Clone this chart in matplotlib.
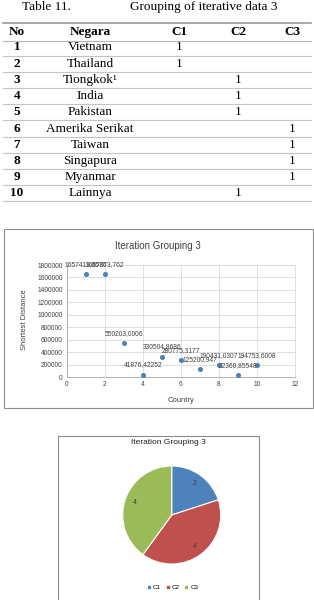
import matplotlib
matplotlib.use("Agg")
import matplotlib.pyplot as plt
from matplotlib.patches import Rectangle
from matplotlib.lines import Line2D

# table data
no = [1, 2, 3, 4, 5, 6, 7, 8, 9, 10]
negara = ["Vietnam", "Thailand", "Tiongkok\u00b9", "India", "Pakistan",
          "Amerika Serikat", "Taiwan", "Singapura", "Myanmar", "Lainnya"]
cluster = [1, 1, 2, 2, 2, 3, 3, 3, 3, 2]   # 1 -> C1, 2 -> C2, 3 -> C3

# scatter data
country = [1, 2, 3, 4, 5, 6, 7, 8, 9, 10]
distance = [1657419.8576, 1657873.762, 550203.0006, 41876.42252, 330504.8686,
            280775.3177, 125200.947, 190431.0307, 32360.85548, 194753.6008]
dist_labels = ["1657419,8576", "1657873,762", "550203,0006", "41876,42252",
               "330504,8686", "280775,3177", "125200,947", "190431,0307",
               "32360,85548", "194753,6008"]

# pie data
pie_labels = ["C1", "C2", "C3"]
pie_counts = [2, 4, 4]
pie_colors = ["#4f81bd", "#c0504d", "#9bbb59"]

W, H = 314, 600
fig = plt.figure(figsize=(W / 100, H / 100), dpi=100)

# overlay in pixel coordinates for the table and the chart boxes
ov = fig.add_axes([0, 0, 1, 1])
ov.set_xlim(0, W)
ov.set_ylim(H, 0)
ov.axis("off")

serif = "Liberation Serif"
sans = "Liberation Sans"

ov.text(22, 7, "Table 11.", family=serif, fontsize=9.5, va="center")
ov.text(130, 7, "Grouping of iterative data 3", family=serif, fontsize=9.5, va="center")

col_x = [17, 90, 179, 238, 292]
header = ["No", "Negara", "C1", "C2", "C3"]
for cx, h in zip(col_x, header):
    ov.text(cx, 32, h, family=serif, fontsize=9.5, weight="bold", ha="center", va="center")

ov.plot([3, 311], [22.5, 22.5], color="#9a9a9a", lw=1.2)
ov.plot([3, 311], [40.5, 40.5], color="#b5b5b5", lw=0.8)
row_h = 16.2
for i, (n, neg, c) in enumerate(zip(no, negara, cluster)):
    y = 47.5 + i * row_h
    ov.text(col_x[0], y, str(n), family=serif, fontsize=9.5, weight="bold", ha="center", va="center")
    ov.text(col_x[1], y, neg, family=serif, fontsize=9.5, ha="center", va="center")
    ov.text(col_x[1 + c], y, "1", family=serif, fontsize=9.5, ha="center", va="center")
    yl = y + row_h / 2
    ov.plot([3, 311], [yl, yl], color="#c4c4c4", lw=0.8)

# chart frames
ov.add_patch(Rectangle((4, 229), 309, 179, fill=False, ec="#8c8c8c", lw=0.8))
ov.add_patch(Rectangle((58.3, 435.7), 201, 170, fill=False, ec="#8c8c8c", lw=0.8))

ov.text(158, 246, "Iteration Grouping 3", family=sans, fontsize=7, ha="center", va="center", color="#404040")
ov.text(25, 320, "Shortest Distance", family=sans, fontsize=5.5, rotation=90,
        ha="center", va="center", color="#404040")
ov.text(181, 400, "Country", family=sans, fontsize=5.5, ha="center", va="center", color="#404040")
ov.text(168, 442.7, "Iteration Grouping 3", family=sans, fontsize=6, ha="center", va="center", color="#202020")

# scatter chart
ax = fig.add_axes([66.7 / W, 1 - 377.3 / H, (295 - 66.7) / W, (377.3 - 265) / H])
ax.scatter(country, distance, s=7, color="#4f81bd", zorder=3)
for xv, yv, lab in zip(country, distance, dist_labels):
    ax.annotate(lab, (xv, yv), xytext=(0, 7), textcoords="offset points",
                ha="center", va="center", fontsize=4.8, family=sans, color="#404040")
ax.set_xlim(0, 12)
ax.set_ylim(0, 1800000)
ax.set_xticks(range(0, 13, 2))
ax.set_yticks(range(0, 1800001, 200000))
ax.set_yticklabels([str(v) for v in range(0, 1800001, 200000)])
ax.grid(True, color="#d9d9d9", lw=0.6)
ax.set_axisbelow(True)
for s in ax.spines.values():
    s.set_color("#d9d9d9")
    s.set_linewidth(0.6)
ax.spines["bottom"].set_color("#a6a6a6")
ax.spines["left"].set_color("#a6a6a6")
ax.tick_params(labelsize=4.8, length=0, pad=3, colors="#404040")
for t in ax.get_xticklabels() + ax.get_yticklabels():
    t.set_family(sans)

# pie chart
pax = fig.add_axes([(171.7 - 49) / W, 1 - (515 + 49) / H, 98 / W, 98 / H])
pax.pie(pie_counts, colors=pie_colors, startangle=90, counterclock=False,
        labels=[str(c) for c in pie_counts], labeldistance=0.8,
        wedgeprops=dict(edgecolor="white", linewidth=0.8),
        textprops=dict(fontsize=5, family=sans, color="#404040"))
for t in pax.texts:
    t.set_ha("center")
    t.set_va("center")
pax.set_xlim(-1, 1)
pax.set_ylim(-1, 1)

handles = [Line2D([], [], marker="s", ls="", ms=2, color=c) for c in pie_colors]
fig.legend(handles, pie_labels, loc="center", bbox_to_anchor=(172.7 / W, 1 - 587.7 / H),
           ncol=3, frameon=False, prop=dict(family=sans, size=4.5),
           handlelength=0.6, handletextpad=0.3, columnspacing=0.8)

fig.savefig("out.png", dpi=100)
